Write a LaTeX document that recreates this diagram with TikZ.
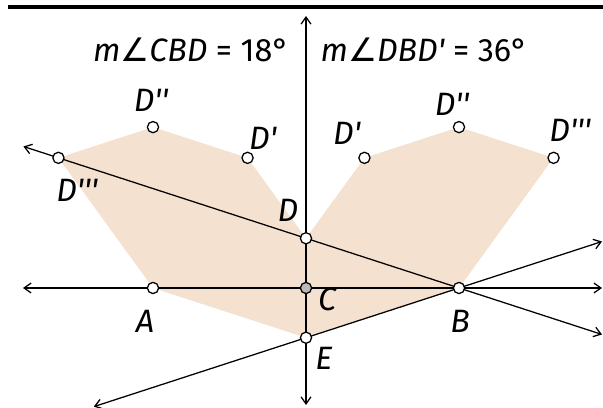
\documentclass[tikz,border=0pt]{standalone}
\usepackage{fontspec}
\setmainfont{Fira Sans}[Ligatures=TeXOff]
\newfontfamily\symfont{DejaVu Sans}
\usetikzlibrary{arrows.meta,calc}

\definecolor{peach}{RGB}{245,225,208}

\begin{document}
\begin{tikzpicture}[>={Straight Barb[length=5pt,width=7pt]}, line width=0.9pt,
  font=\fontsize{23}{27}\selectfont\itshape,
  pt/.style={circle, draw, fill=white, inner sep=0pt, minimum size=0.28cm, line width=0.9pt},
  lbl/.style={anchor=base, inner sep=0pt}]
	  \useasboundingbox (-7.65,-3.0) rectangle (7.425,7.2);
	  % points of the figure
	  \coordinate (C) at (0,0);
	  \coordinate (A) at (-3.825,0);
	  \coordinate (B) at (3.825,0);
	  \coordinate (D) at (0,1.243);
	  \coordinate (E) at (0,-1.243);
	  \coordinate (Dr1) at ($(B)+(126:4.022)$); \coordinate (Dr2) at ($(B)+(90:4.022)$); \coordinate (Dr3) at ($(B)+(54:4.022)$);
	  \coordinate (Dl1) at ($(A)+(54:4.022)$); \coordinate (Dl2) at ($(A)+(90:4.022)$); \coordinate (Dl3) at ($(A)+(126:4.022)$);
	  % free ends of the lines
	  \coordinate (vtop) at (0,6.8); \coordinate (vbot) at (0,-2.925);
	  \coordinate (hl) at (-7.075,0); \coordinate (hr) at (7.4,0);
	  \coordinate (bdl) at ($(B)+(162:11.45)$); \coordinate (bdr) at ($(B)+(-18:3.76)$);
	  \coordinate (ebl) at ($(B)+(198:9.6)$); \coordinate (ebr) at ($(B)+(18:3.76)$);
	  \fill[peach] (A) -- (Dl3) -- (Dl2) -- (Dl1) -- (D) -- (Dr1) -- (Dr2) -- (Dr3) -- (B) -- (E) -- cycle;
	  \draw[<->] (vbot) -- (vtop);
	  \draw[<->] (hl) -- (hr);
	  \draw[<->] (bdl) -- (bdr);
	  \draw[<->] (ebl) -- (ebr);
	  \draw[line width=2.4pt] (-7.45,7.025) -- (7.425,7.025);
	  \node[pt] (nA) at (A) {}; \node[pt] (nB) at (B) {}; \node[pt, fill=gray!55] (nC) at (C) {};
	  \node[pt] (nD) at (D) {}; \node[pt] (nE) at (E) {};
	  \node[pt] (nDl1) at (Dl1) {}; \node[pt] (nDl2) at (Dl2) {}; \node[pt] (nDl3) at (Dl3) {};
	  \node[pt] (nDr1) at (Dr1) {}; \node[pt] (nDr2) at (Dr2) {}; \node[pt] (nDr3) at (Dr3) {};
	  % labels
	  \node[lbl] (tA) at (-4.025,-1.125) {A}; \node[lbl] (tB) at (3.85,-1.125) {B};
	  \node[lbl] (tC) at (0.525,-0.575) {C}; \node[lbl] (tD) at (-0.45,1.65) {D};
	  \node[lbl] (tE) at (0.45,-2.05) {E};
	  \node[lbl] (tDl1) at (-1.075,3.45) {D'}; \node[lbl] (tDl2) at (-3.875,4.4) {D''}; \node[lbl] (tDl3) at (-5.725,2.15) {D'''};
	  \node[lbl] (tDr1) at (1.025,3.575) {D'}; \node[lbl] (tDr2) at (3.65,4.3) {D''}; \node[lbl] (tDr3) at (6.6,3.65) {D'''};
	  \node[lbl, anchor=base east] (angL) at (-0.4,5.65) {m{\symfont\upshape ∠}CBD {\upshape = 18°}};
	  \node[lbl, anchor=base west] (angR) at (0.35,5.65) {m{\symfont\upshape ∠}DBD' {\upshape = 36°}};
	\end{tikzpicture}
\end{document}
